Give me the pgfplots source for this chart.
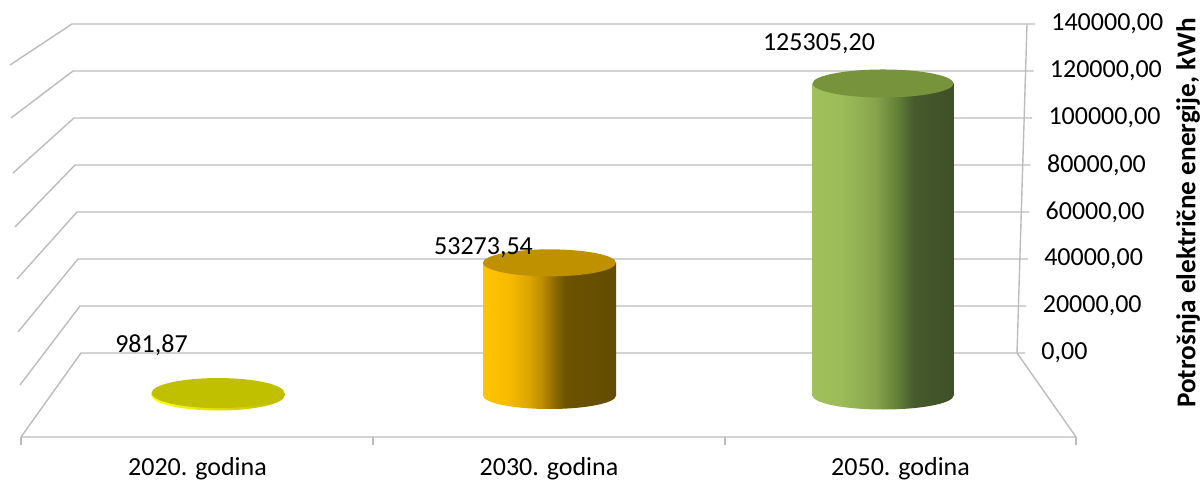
\documentclass[border=0pt]{standalone}
\usepackage{fontspec}
\setmainfont{Carlito}
\usepackage{pgfplots}
\pgfplotsset{compat=1.18}
\usetikzlibrary{shapes.geometric}

\definecolor{gridc}{RGB}{188,188,188}
% 2030 - gold
\definecolor{ga}{RGB}{255,196,0}
\definecolor{gb}{RGB}{248,188,0}
\definecolor{gc}{RGB}{222,166,0}
\definecolor{gd}{RGB}{190,142,0}
\definecolor{ge}{RGB}{140,106,0}
\definecolor{gf}{RGB}{108,83,0}
\definecolor{gg}{RGB}{98,76,0}
\definecolor{goldtop}{RGB}{191,144,0}
% 2050 - green
\definecolor{na}{RGB}{160,192,92}
\definecolor{nb}{RGB}{156,188,89}
\definecolor{nc}{RGB}{136,165,78}
\definecolor{nd}{RGB}{100,128,56}
\definecolor{ne}{RGB}{70,90,44}
\definecolor{nf}{RGB}{63,80,39}
\definecolor{greentop}{RGB}{119,147,60}
% 2020 - yellow disk
\definecolor{ya}{RGB}{255,255,20}
\definecolor{yb}{RGB}{230,230,0}
\definecolor{yc}{RGB}{185,185,0}
\definecolor{disktop}{RGB}{192,192,0}

\pgfdeclarehorizontalshading{goldshade}{100bp}{color(0bp)=(ga); color(25bp)=(ga); color(34bp)=(gb); color(42bp)=(gc); color(47bp)=(gd); color(52bp)=(ge); color(56bp)=(gf); color(75bp)=(gg); color(100bp)=(gg)}
\pgfdeclarehorizontalshading{greenshade}{100bp}{color(0bp)=(na); color(25bp)=(na); color(35bp)=(nb); color(47bp)=(nc); color(55bp)=(nd); color(61bp)=(ne); color(75bp)=(nf); color(100bp)=(nf)}
\pgfdeclarehorizontalshading{yellowshade}{100bp}{color(0bp)=(ya); color(25bp)=(ya); color(45bp)=(yb); color(75bp)=(yc); color(100bp)=(yc)}

\pgfplotsset{
  ellip/.style n args={3}{draw=none, mark=none, forget plot,
    nodes near coords={}, nodes near coords align={anchor=center},
    nodes near coords style={ellipse, anchor=center, inner sep=0pt,
      minimum width=#1, minimum height=#2, #3}},
  lbl/.style 2 args={draw=none, mark=none, forget plot,
    nodes near coords, point meta=y, nodes near coords align={anchor=center},
    nodes near coords style={anchor=center, xshift=#1, yshift=#2, text=black}},
  body/.style 2 args={ybar, bar shift=0pt, bar width=#1, draw=none, forget plot,
    shade, shading=#2},
}

\begin{document}
\fontsize{13}{15.6}\selectfont
\begin{tikzpicture}
% walls, floor and value axis
\begin{axis}[
    at={(0pt,0pt)}, anchor=south west,
    scale only axis, width=601pt, height=241pt,
    xmin=0, xmax=1202, ymin=-54893.6, ymax=150212.8,
    clip=false,
    axis line style={draw=none},
    tick style={draw=none},
    xtick={197.5,549,900.5},
    xticklabels={2020. godina,2030. godina,2050. godina},
    xticklabel style={anchor=center, yshift=6.5pt},
    ytick={0,20000,...,140000},
    scaled y ticks=false,
    yticklabel style={anchor=west, inner sep=0pt, xshift=520.5pt+\ticknum*0.71pt},
    /pgf/number format/.cd, fixed, fixed zerofill, precision=2, use comma, 1000 sep={}, assume math mode=true,
    /pgfplots/.cd,
    ylabel={Potrošnja električne energije, kWh},
    every axis y label/.style={at={(axis description cs:0.9885,0.558)}, rotate=90, anchor=center,
      font=\fontsize{13.6}{16}\selectfont\bfseries},
  ]
  \draw[gridc, line width=0.7pt] (axis cs:10,122553) -- (axis cs:72,140000) -- (axis cs:1035,140000);
  \draw[gridc, line width=0.7pt] (axis cs:11,100000) -- (axis cs:73,120000) -- (axis cs:1033.6,120000);
  \draw[gridc, line width=0.7pt] (axis cs:13,76596) -- (axis cs:74,100000) -- (axis cs:1032.1,100000);
  \draw[gridc, line width=0.7pt] (axis cs:15,53617) -- (axis cs:75,80000) -- (axis cs:1030.7,80000);
  \draw[gridc, line width=0.7pt] (axis cs:17,31489) -- (axis cs:77,60000) -- (axis cs:1029.3,60000);
  \draw[gridc, line width=0.7pt] (axis cs:18,8936) -- (axis cs:78,40000) -- (axis cs:1027.9,40000);
  \draw[gridc, line width=0.7pt] (axis cs:20,-13617) -- (axis cs:80,20000) -- (axis cs:1026.4,20000);
  \draw[gridc, line width=0.7pt] (axis cs:21,-35745) -- (axis cs:81,0) -- (axis cs:1025,0);
  % floor and right wall edge
  \draw[gridc, line width=0.7pt] (axis cs:21,-35745) -- (axis cs:1076,-35745) -- (axis cs:1017,0) -- (axis cs:1027,140000);
  \draw[gridc, line width=0.7pt] (axis cs:21,-35745) -- (axis cs:21,-39149);
  \draw[gridc, line width=0.7pt] (axis cs:373,-35745) -- (axis cs:373,-39149);
  \draw[gridc, line width=0.7pt] (axis cs:725,-35745) -- (axis cs:725,-39149);
  \draw[gridc, line width=0.7pt] (axis cs:1076,-35745) -- (axis cs:1076,-39149);
\end{axis}

% cylinders (front plane scale)
\begin{axis}[
    at={(0pt,0pt)}, anchor=south west,
    scale only axis, width=601pt, height=241pt,
    xmin=0, xmax=1202, ymin=-34739, ymax=158835,
    hide axis, clip=false,
    /pgf/number format/.cd, fixed, fixed zerofill, precision=2, use comma, 1000 sep={}, assume math mode=true,
  ]
  % 2020
  \addplot[ellip={66.5pt}{15pt}{shade, shading=yellowshade}] coordinates {(218,0)};
  \addplot[body={66.5pt}{yellowshade}] coordinates {(218,981.87)};
  \addplot[ellip={66.5pt}{15pt}{fill=disktop}] coordinates {(218,981.87)};
  \addplot[lbl={-33.25pt}{23.75pt}] coordinates {(218,981.87)};
  % 2030
  \addplot[ellip={66.5pt}{13.5pt}{shade, shading=goldshade}] coordinates {(549.5,0)};
  \addplot[body={66.5pt}{goldshade}] coordinates {(549.5,53273.54)};
  \addplot[ellip={66.5pt}{13.5pt}{fill=goldtop}] coordinates {(549.5,53273.54)};
  \addplot[lbl={-33pt}{7.4pt}] coordinates {(549.5,53273.54)};
  % 2050
  \addplot[ellip={70.5pt}{14pt}{shade, shading=greenshade}] coordinates {(883,0)};
  \addplot[body={70.5pt}{greenshade}] coordinates {(883,125305.20)};
  \addplot[ellip={70.5pt}{14pt}{fill=greentop}] coordinates {(883,125305.20)};
  \addplot[lbl={-32pt}{19.75pt}] coordinates {(883,125305.20)};
\end{axis}
\pgfresetboundingbox
\path (0pt,0pt) rectangle (601pt,241pt);
\end{tikzpicture}
\end{document}
